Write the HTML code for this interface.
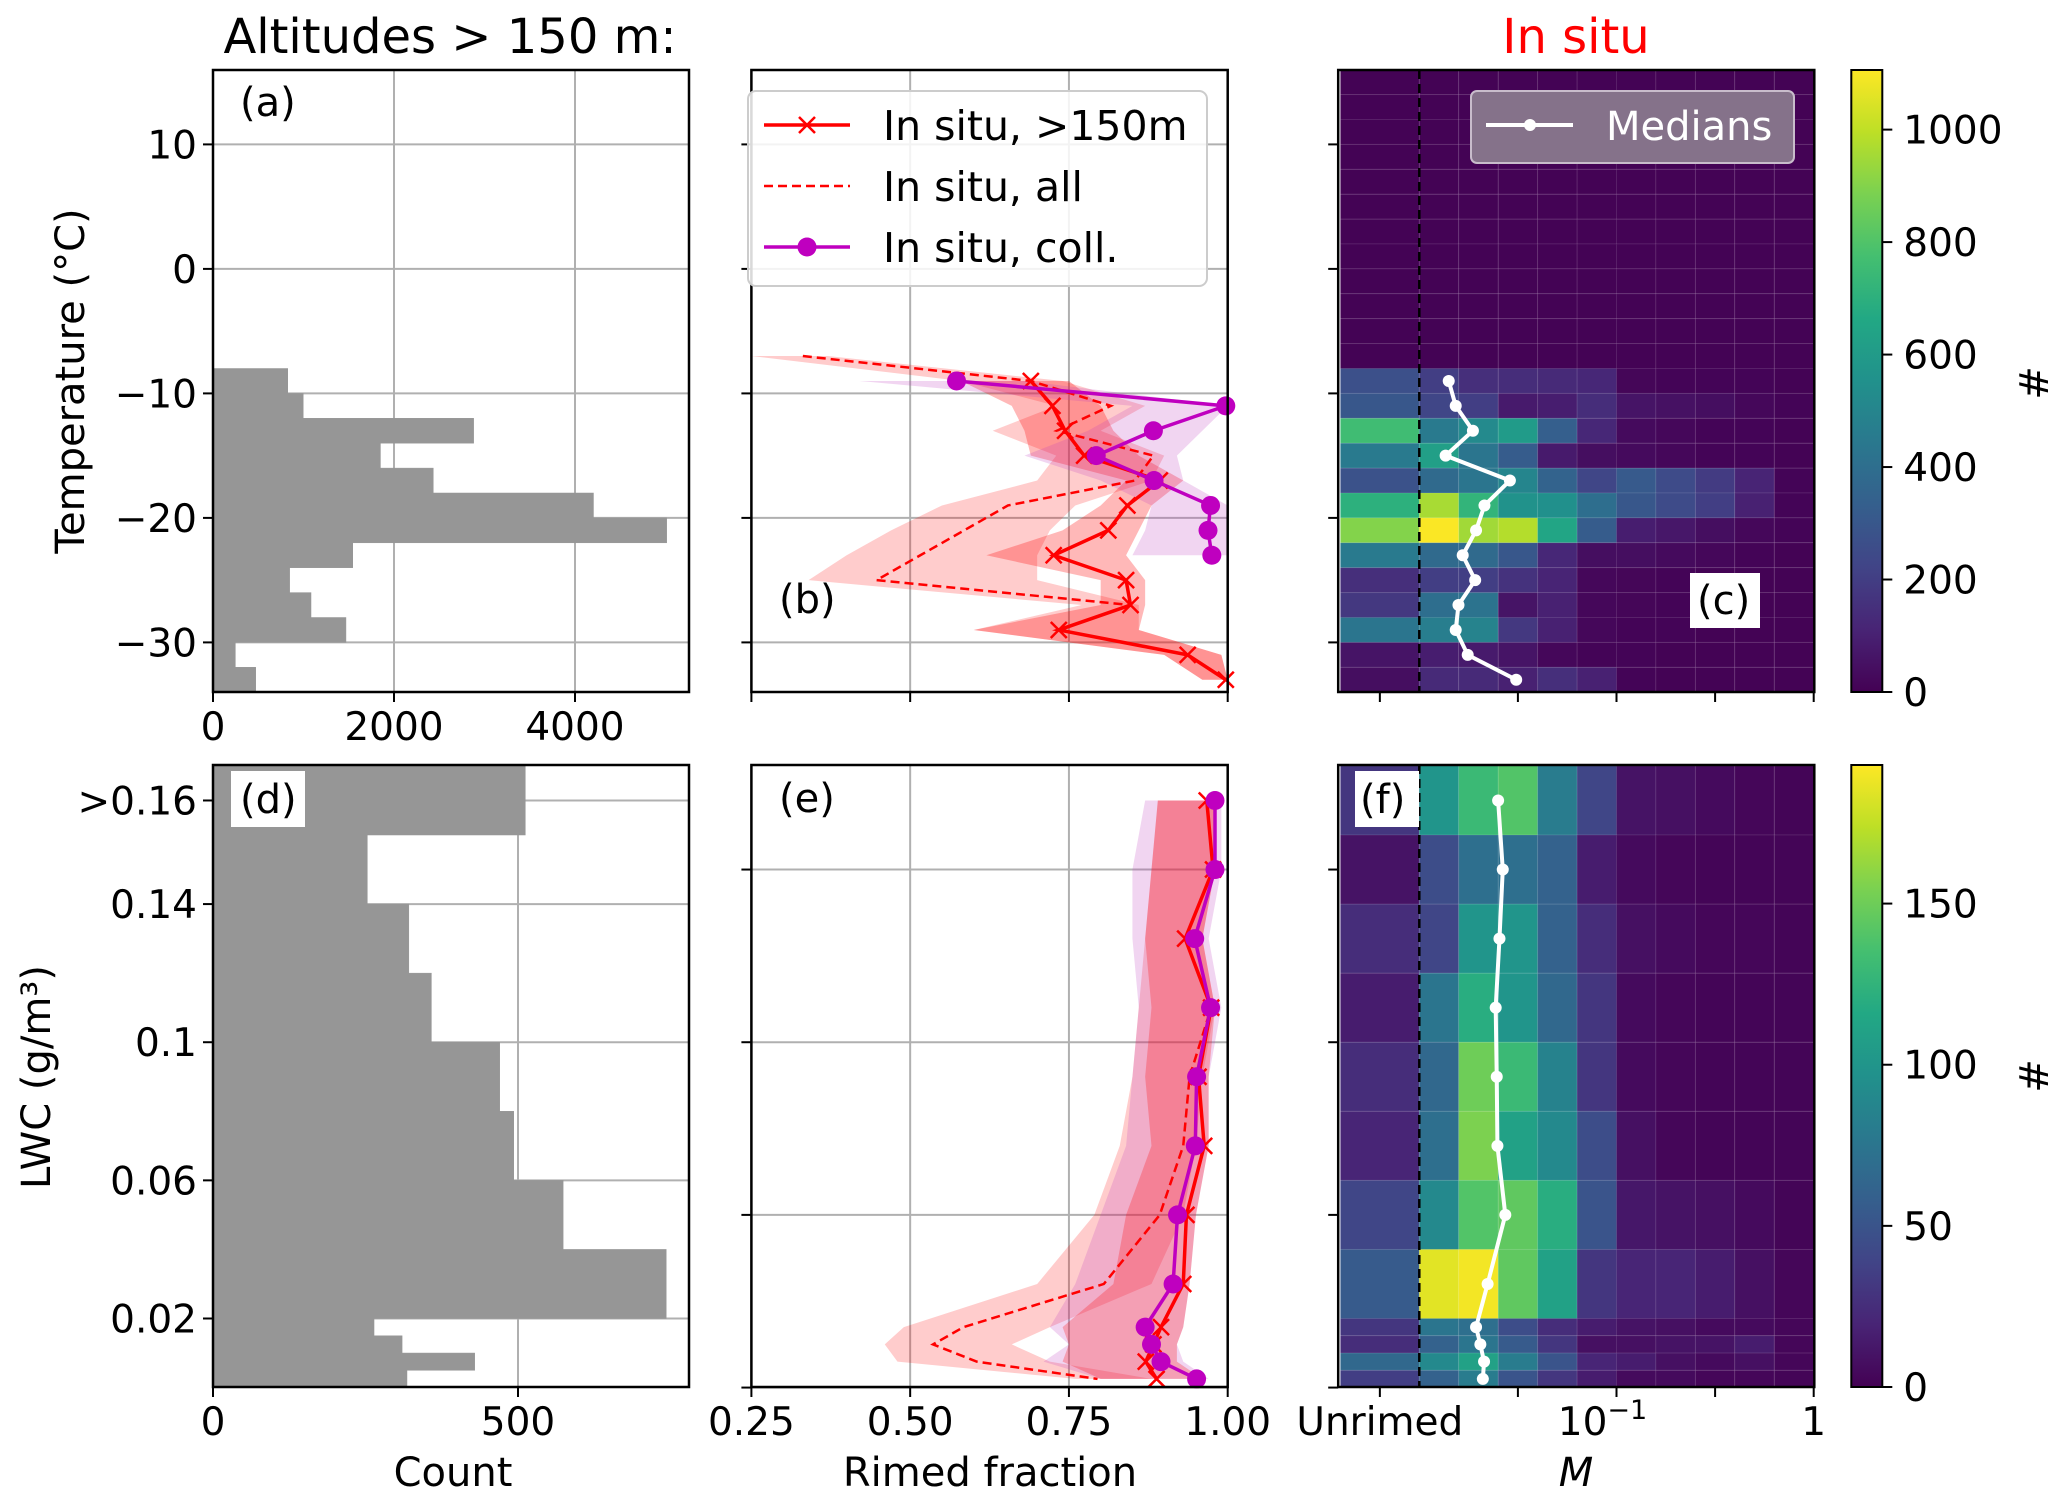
<!DOCTYPE html>
<html><head><meta charset="utf-8">
<style>
html,body{margin:0;padding:0;background:#fff;}
svg{display:block;font-family:"DejaVu Sans","Liberation Sans",sans-serif;}
</style></head>
<body>
<svg id="fig" width="2067" height="1506" viewBox="0 0 2067 1506" xmlns="http://www.w3.org/2000/svg">
<defs>
<linearGradient id="viridis" x1="0" y1="1" x2="0" y2="0">
<stop offset="0" stop-color="#440154"/><stop offset="0.1" stop-color="#482475"/><stop offset="0.2" stop-color="#414487"/><stop offset="0.3" stop-color="#355f8d"/><stop offset="0.4" stop-color="#2a788e"/><stop offset="0.5" stop-color="#21918c"/><stop offset="0.6" stop-color="#22a884"/><stop offset="0.7" stop-color="#44bf70"/><stop offset="0.8" stop-color="#7ad151"/><stop offset="0.9" stop-color="#bddf26"/><stop offset="1" stop-color="#fde725"/>
</linearGradient>
</defs>
<text x="450" y="53" font-size="48" text-anchor="middle">Altitudes &gt; 150 m:</text>
<text x="1576" y="53" font-size="48" text-anchor="middle" fill="#ff0000">In situ</text>
<g id="root"></g>
</svg>
<script>
// ---------- data ----------
const tempBinTops = [-8,-10,-12,-14,-16,-18,-20,-22,-24,-26,-28,-30,-32];
const tempCounts = [826,997,2880,1850,2434,4204,5013,1544,847,1083,1469,247,472];
const tempTicks = [10,0,-10,-20,-30];
const countTicksA = [0,2000,4000];

const rfTempsSolid = [-9,-11,-13,-15,-17,-19,-21,-23,-25,-27,-29,-31,-33];
const rfSolidT = [0.690,0.724,0.744,0.774,0.893,0.842,0.812,0.726,0.840,0.847,0.734,0.937,0.997];
const rfSolidTLo = [0.58,0.66,0.68,0.69,0.84,0.80,0.74,0.62,0.80,0.80,0.60,0.90,0.96];
const rfSolidTHi = [0.75,0.80,0.82,0.86,0.93,0.88,0.86,0.84,0.87,0.87,0.86,0.99,1.0];
const rfTempsAll = [-7,-9,-11,-13,-15,-17,-19,-21,-23,-25,-27,-29,-31,-33];
const rfAllT = [0.331,0.690,0.816,0.731,0.883,0.854,0.654,0.585,0.516,0.447,0.847,0.734,0.937,0.997];
const rfAllTLo = [0.25,0.58,0.73,0.63,0.73,0.70,0.55,0.47,0.40,0.34,0.77,0.60,0.90,0.96];
const rfAllTHi = [0.37,0.74,0.87,0.80,0.90,0.88,0.76,0.72,0.70,0.70,0.86,0.86,0.99,1.0];
const rfTempsColl = [-9,-11,-13,-15,-17,-19,-21,-23];
const rfCollT = [0.573,0.997,0.883,0.793,0.884,0.973,0.969,0.975];
const rfCollTLo = [0.42,0.85,0.78,0.68,0.80,0.88,0.87,0.85];
const rfCollTHi = [0.68,1.0,0.96,0.92,0.93,1.0,1.0,1.0];
const rfTicks = [0.25,0.5,0.75,1.0];
const rfTickLabels = ["0.25","0.50","0.75","1.00"];

const logMEdges = [-2.4,-2.0,-1.8,-1.6,-1.4,-1.2,-1.0,-0.8,-0.6,-0.4,-0.2,0];
const mTicksLog = [-2.2,-1.5,-1,-0.5,0];
const mTickLabels = ["Unrimed","","10|−1","","1"];
const heatTempRows = [
[270,200,150,140,130,120,15,10,10,10,5],
[300,230,200,80,90,140,60,50,40,20,10],
[760,450,520,600,330,120,30,20,10,10,5],
[450,620,430,320,80,40,30,20,10,10,5],
[280,380,430,500,350,230,310,250,190,110,10],
[700,960,720,560,550,400,300,250,200,100,10],
[900,1100,950,980,650,320,90,70,40,20,10],
[450,380,380,300,120,40,40,30,20,10,5],
[150,200,200,160,110,20,15,10,5,5,5],
[180,400,420,60,100,20,15,10,5,5,5],
[430,470,490,180,100,20,10,10,5,5,5],
[60,90,80,60,20,10,10,5,5,5,5],
[40,130,130,100,150,100,10,5,5,5,5]];
const heatTempBg = 5;
const medTempM = [0.0141,0.0153,0.0187,0.0136,0.0288,0.0214,0.0194,0.0166,0.0192,0.0158,0.0153,0.0176,0.031];
const cbTempMax = 1106;
const cbTempTicks = [0,200,400,600,800,1000];

const lwcEdges = [0.18,0.16,0.14,0.12,0.10,0.08,0.06,0.04,0.02,0.015,0.01,0.005,0];
const lwcCounts = [512,253,321,358,470,493,574,743,264,310,429,318];
const lwcTicksD = [0.17,0.14,0.10,0.06,0.02];
const lwcTickLabelsD = [">0.16","0.14","0.1","0.06","0.02"];
const lwcTicksE = [0.15,0.10,0.05,0];
const countTicksD = [0,500];
const lwcCenters = [0.17,0.15,0.13,0.11,0.09,0.07,0.05,0.03,0.0175,0.0125,0.0075,0.0025];
const rfSolidL = [0.967,0.977,0.933,0.974,0.954,0.963,0.935,0.930,0.895,0.883,0.871,0.888];
const rfSolidLLo = [0.89,0.88,0.87,0.88,0.87,0.88,0.84,0.82,0.74,0.75,0.74,0.80];
const rfSolidLHi = [0.98,0.98,0.96,0.98,0.97,0.97,0.95,0.94,0.93,0.92,0.92,0.96];
const rfAllL = [0.967,0.977,0.933,0.974,0.940,0.930,0.893,0.805,0.584,0.536,0.605,0.795];
const rfAllLLo = [0.89,0.88,0.87,0.86,0.85,0.83,0.79,0.70,0.49,0.46,0.48,0.76];
const rfAllLHi = [0.98,0.98,0.96,0.98,0.96,0.95,0.93,0.88,0.72,0.66,0.72,0.88];
const rfCollL = [0.980,0.980,0.948,0.973,0.951,0.949,0.921,0.914,0.870,0.880,0.895,0.951];
const rfCollLLo = [0.87,0.85,0.85,0.86,0.85,0.84,0.80,0.76,0.72,0.75,0.71,0.80];
const rfCollLHi = [0.99,0.99,0.97,0.99,0.97,0.97,0.95,0.94,0.93,0.92,0.93,0.97];
const heatLwcRows = [
[30,100,130,140,80,40,10,8,5,3,2],
[10,45,70,70,60,15,5,3,2,2,2],
[25,40,100,100,60,25,8,5,3,3,2],
[15,75,120,100,65,30,5,3,2,2,2],
[25,65,150,130,85,30,5,3,2,2,2],
[20,70,155,110,90,45,8,3,2,2,2],
[40,90,140,145,120,50,12,10,8,5,2],
[55,185,190,145,110,30,20,20,15,8,3],
[30,75,70,45,25,15,10,8,5,5,3],
[25,60,75,55,30,8,8,10,10,15,3],
[65,90,110,80,50,20,15,8,5,8,3],
[35,60,80,50,30,15,5,5,3,3,2]];
const medLwcM = [0.0251,0.0265,0.0255,0.0244,0.0247,0.0249,0.0273,0.0222,0.0194,0.0204,0.0213,0.0210];
const cbLwcMax = 193;
const cbLwcTicks = [0,50,100,150];

// ---------- layout ----------
const NS = "http://www.w3.org/2000/svg";
const root = document.getElementById('root');
const TOP1=70, BOT1=692, TOP2=765, BOT2=1387;
const AL=213, AR=689, BL=751.4, BR=1227.7, CL=1338.2, CR=1814.3, CBL=1851.3, CBR=1882.3;
const FS=39, BOTLAB=1435;
function el(tag, attrs, parent){ const e=document.createElementNS(NS,tag); for(const k in attrs) e.setAttribute(k,attrs[k]); (parent||root).appendChild(e); return e; }
function txt(s, attrs, parent){ const e=el('text',attrs,parent); e.textContent=s; return e; }

const yT = t => 144.4 + (10 - t)*12.45;
const yL = v => 1318.5 - (v - 0.02)/0.02*69.07;
const xA = c => AL + c*181/2000;
const xD = c => AL + c*305/500;
const xRF = (L,R) => r => L + (r-0.25)/0.75*(R-L);
const xB = xRF(BL,BR);
const xM = lm => 1616.5 + 197.2*(lm + 1);
const viridis = ["#440154","#482475","#414487","#355f8d","#2a788e","#21918c","#22a884","#44bf70","#7ad151","#bddf26","#fde725"];
function hex(h){return [parseInt(h.slice(1,3),16),parseInt(h.slice(3,5),16),parseInt(h.slice(5,7),16)];}
function cmap(f){ f=Math.max(0,Math.min(1,f)); const p=f*10, i=Math.min(9,Math.floor(p)), t=p-i; const a=hex(viridis[i]), b=hex(viridis[i+1]); return 'rgb('+a.map((v,k)=>Math.round(v+(b[k]-v)*t)).join(',')+')'; }

function frame(L,T,R,B,name){ const r=el('rect',{x:L,y:T,width:R-L,height:B-T,fill:'none',stroke:'#000','stroke-width':2.5});   }
function gridH(L,R,y,g){ el('line',{x1:L,x2:R,y1:y,y2:y,stroke:'#b0b0b0','stroke-width':2},g); }
function gridV(T,B,x,g){ el('line',{x1:x,x2:x,y1:T,y2:B,stroke:'#b0b0b0','stroke-width':2},g); }
function tickL(L,y,g){ el('line',{x1:L-10,x2:L,y1:y,y2:y,stroke:'#000','stroke-width':2},g); }
function tickB(B,x,g){ el('line',{x1:x,x2:x,y1:B,y2:B+10,stroke:'#000','stroke-width':2},g); }

// ---------- panel (a) ----------
const ga = el('g',{});  
tempTicks.forEach(t=>gridH(AL,AR,yT(t),ga));
countTicksA.forEach(c=>gridV(TOP1,BOT1,xA(c),ga));
tempCounts.forEach((c,i)=>{ const y0=yT(tempBinTops[i]), y1=yT(tempBinTops[i]-2);
  const r=el('rect',{x:AL,y:y0,width:xA(c)-AL,height:y1-y0,fill:'#969696',stroke:'#969696','stroke-width':0.5},ga);
    });
tempTicks.forEach(t=>{ tickL(AL,yT(t),ga); txt(String(t).replace('-','−'),{x:AL-16,y:yT(t)+14,'font-size':FS,'text-anchor':'end'},ga); });
countTicksA.forEach(c=>{ tickB(BOT1,xA(c),ga); txt(String(c),{x:xA(c),y:740,'font-size':FS,'text-anchor':'middle'},ga); });
frame(AL,TOP1,AR,BOT1,'panel-a-frame');
txt('(a)',{x:240,y:116,'font-size':40},ga);
const yl1=txt('Temperature (°C)',{x:0,y:0,'font-size':40,'text-anchor':'middle',transform:'translate(84,381) rotate(-90)'});
 

// ---------- panel (b) ----------
const gb = el('g',{});  
tempTicks.forEach(t=>gridH(BL,BR,yT(t),gb));
rfTicks.forEach(r=>gridV(TOP1,BOT1,xB(r),gb));
function band(lo,hi,ys,xf,fill,op,g,name){ const pts=[]; lo.forEach((v,i)=>pts.push(xf(v)+','+ys[i])); for(let i=hi.length-1;i>=0;i--) pts.push(xf(hi[i])+','+ys[i]);
  const p=el('polygon',{points:pts.join(' '),fill:fill,'fill-opacity':op},g);   }
function line(vals,ys,xf,attrs,g,name){ const p=el('polyline',Object.assign({points:vals.map((v,i)=>xf(v)+','+ys[i]).join(' '),fill:'none'},attrs),g);   }
function xmarks(vals,ys,xf,g,s){ vals.forEach((v,i)=>{ const x=xf(v),y=ys[i]; const p=el('path',{d:`M${x-s},${y-s}L${x+s},${y+s}M${x-s},${y+s}L${x+s},${y-s}`,stroke:'#ff0000','stroke-width':2.5},g);   }); }
function dots(vals,ys,xf,g,r,col){ vals.forEach((v,i)=>{ const c=el('circle',{cx:xf(v),cy:ys[i],r:r,fill:col},g);   }); }
const ysA = rfTempsAll.map(yT), ysS = rfTempsSolid.map(yT), ysC = rfTempsColl.map(yT);
band(rfAllTLo,rfAllTHi,ysA,xB,'#ff0000',0.2,gb,'band-all');
band(rfSolidTLo,rfSolidTHi,ysS,xB,'#ff0000',0.28,gb,'band-150m');
band(rfCollTLo,rfCollTHi,ysC,xB,'#c040c0',0.22,gb,'band-coll');
line(rfAllT,ysA,xB,{stroke:'#ff0000','stroke-width':2.5,'stroke-dasharray':'9,5'},gb,'line-insitu-all');
line(rfSolidT,ysS,xB,{stroke:'#ff0000','stroke-width':3.5},gb,'line-insitu-150m');
xmarks(rfSolidT,ysS,xB,gb,8);
line(rfCollT,ysC,xB,{stroke:'#bf00bf','stroke-width':3.5},gb,'line-insitu-coll');
dots(rfCollT,ysC,xB,gb,9.5,'#bf00bf');
tempTicks.forEach(t=>tickL(BL,yT(t),gb));
rfTicks.forEach(r=>tickB(BOT1,xB(r),gb));
frame(BL,TOP1,BR,BOT1,'panel-b-frame');
txt('(b)',{x:779,y:613,'font-size':40},gb);
const lg = el('g',{});  
el('rect',{x:748,y:91,width:459,height:195,rx:8,fill:'#fff','fill-opacity':0.85,stroke:'#cccccc','stroke-width':2},lg);
const legRows=[['In situ, >150m',125,'solid'],['In situ, all',186,'dash'],['In situ, coll.',247,'coll']];
legRows.forEach(([lab,y,k])=>{ const e=el('g',{},lg);  
  if(k==='dash') el('line',{x1:764,x2:850,y1:y,y2:y,stroke:'#ff0000','stroke-width':2.5,'stroke-dasharray':'9,5'},e);
  else el('line',{x1:764,x2:850,y1:y,y2:y,stroke:k==='solid'?'#ff0000':'#bf00bf','stroke-width':3.5},e);
  if(k==='solid') el('path',{d:`M799,117L815,133M799,133L815,117`,stroke:'#ff0000','stroke-width':2.5},e);
  if(k==='coll') el('circle',{cx:807,cy:y,r:9.5,fill:'#bf00bf'},e);
  txt(lab,{x:883,y:y+15,'font-size':41},e); });

// ---------- heatmaps ----------
function heatmap(rows, rowEdges, yf, vmax, bg, extraRows, g){
  extraRows.forEach(([t0,t1])=>{ for(let j=0;j<logMEdges.length-1;j++){ const r=el('rect',{x:xM(logMEdges[j]),y:yf(t0),width:xM(logMEdges[j+1])-xM(logMEdges[j]),height:yf(t1)-yf(t0),fill:cmap(bg/vmax),stroke:'rgba(255,255,255,0.08)','stroke-width':1},g);   } });
  rows.forEach((row,i)=>{ row.forEach((v,j)=>{ const y0=yf(rowEdges[i]), y1=yf(rowEdges[i+1]);
    const r=el('rect',{x:xM(logMEdges[j]),y:y0,width:xM(logMEdges[j+1])-xM(logMEdges[j]),height:y1-y0,fill:cmap(v/vmax),stroke:'rgba(255,255,255,0.08)','stroke-width':1},g);
      }); });
}
function mticks(B,g,labels){ mTicksLog.forEach((lm,i)=>{ tickB(B,xM(lm),g); if(labels && mTickLabels[i]){ const s=mTickLabels[i];
  if(s.includes('|')){ const [b,e]=s.split('|'); const t=txt(b,{x:xM(lm)-14,y:BOTLAB,'font-size':FS,'text-anchor':'middle'},g); const ts=document.createElementNS(NS,'tspan'); ts.setAttribute('dy','-16'); ts.setAttribute('font-size','27'); ts.textContent=e; t.appendChild(ts); }
  else txt(s,{x:xM(lm),y:BOTLAB,'font-size':FS,'text-anchor':'middle'},g); } }); }

const gc = el('g',{});  
const tempRowEdges = tempBinTops.concat([-34]);
const extraT=[]; for(let t=16;t>-8;t-=2) extraT.push([t,t-2]);
heatmap(heatTempRows,tempRowEdges,yT,cbTempMax,heatTempBg,extraT,gc);
el('line',{x1:xM(-2),x2:xM(-2),y1:TOP1,y2:BOT1,stroke:'#000','stroke-width':2.5,'stroke-dasharray':'9,5'},gc);
line(medTempM.map(Math.log10),rfTempsSolid.map(yT),xM,{stroke:'#fff','stroke-width':4},gc,'medians-line-c');
dots(medTempM.map(Math.log10),rfTempsSolid.map(yT),xM,gc,6,'#fff');
tempTicks.forEach(t=>tickL(CL,yT(t),gc));
mticks(BOT1,gc,false);
frame(CL,TOP1,CR,BOT1,'panel-c-frame');
const lc=el('g',{});  
el('rect',{x:1471,y:91,width:323,height:72,rx:6,fill:'#85728a',stroke:'#c8bccb','stroke-width':2},lc);
el('line',{x1:1486,x2:1573,y1:125,y2:125,stroke:'#fff','stroke-width':4},lc);
el('circle',{cx:1530,cy:125,r:6,fill:'#fff'},lc);
txt('Medians',{x:1606,y:140,'font-size':40,fill:'#fff'},lc);
el('rect',{x:1690,y:573,width:70,height:55,fill:'#fff'},gc);
txt('(c)',{x:1697,y:614,'font-size':40},gc);

function colorbar(T,B,vmax,ticks,hashY,name){ const g=el('g',{});  
  el('rect',{x:CBL,y:T,width:CBR-CBL,height:B-T,fill:'url(#viridis)',stroke:'#000','stroke-width':2},g);
  ticks.forEach(v=>{ const y=B-v/vmax*(B-T); el('line',{x1:CBR,x2:CBR+10,y1:y,y2:y,stroke:'#000','stroke-width':2},g); txt(String(v),{x:CBR+21,y:y+14,'font-size':FS},g); });
  txt('#',{x:0,y:0,'font-size':40,'text-anchor':'middle',transform:`translate(2048,${hashY}) rotate(-90)`},g); }
colorbar(TOP1,BOT1,cbTempMax,cbTempTicks,383,'colorbar-c');

// ---------- panel (d) ----------
const gd = el('g',{});  
lwcTicksD.forEach(v=>gridH(AL,AR,yL(v),gd));
countTicksD.forEach(c=>gridV(TOP2,BOT2,xD(c),gd));
lwcCounts.forEach((c,i)=>{ const y0=yL(lwcEdges[i]), y1=yL(lwcEdges[i+1]);
  const r=el('rect',{x:AL,y:y0,width:xD(c)-AL,height:y1-y0,fill:'#969696',stroke:'#969696','stroke-width':0.5},gd);
    });
lwcTicksD.forEach((v,i)=>{ tickL(AL,yL(v),gd); txt(lwcTickLabelsD[i],{x:AL-16,y:yL(v)+14,'font-size':FS,'text-anchor':'end'},gd); });
countTicksD.forEach(c=>{ tickB(BOT2,xD(c),gd); txt(String(c),{x:xD(c),y:BOTLAB,'font-size':FS,'text-anchor':'middle'},gd); });
frame(AL,TOP2,AR,BOT2,'panel-d-frame');
el('rect',{x:231,y:771,width:74,height:56,fill:'#fff'},gd);
txt('(d)',{x:240,y:813,'font-size':40},gd);
const yl2=txt('LWC (g/m³)',{x:0,y:0,'font-size':40,'text-anchor':'middle',transform:'translate(50,1077) rotate(-90)'});
 
const xl1=txt('Count',{x:453,y:1486,'font-size':40,'text-anchor':'middle'});  

// ---------- panel (e) ----------
const ge = el('g',{});  
lwcTicksE.forEach(v=>gridH(BL,BR,yL(v),ge));
rfTicks.forEach(r=>gridV(TOP2,BOT2,xB(r),ge));
const ysL = lwcCenters.map(yL);
band(rfAllLLo,rfAllLHi,ysL,xB,'#ff0000',0.2,ge,'band-all');
band(rfCollLLo,rfCollLHi,ysL,xB,'#c040c0',0.22,ge,'band-coll');
band(rfSolidLLo,rfSolidLHi,ysL,xB,'#ff0000',0.25,ge,'band-150m');
line(rfAllL,ysL,xB,{stroke:'#ff0000','stroke-width':2.5,'stroke-dasharray':'9,5'},ge,'line-insitu-all');
line(rfSolidL,ysL,xB,{stroke:'#ff0000','stroke-width':3.5},ge,'line-insitu-150m');
xmarks(rfSolidL,ysL,xB,ge,8);
line(rfCollL,ysL,xB,{stroke:'#bf00bf','stroke-width':3.5},ge,'line-insitu-coll');
dots(rfCollL,ysL,xB,ge,9.5,'#bf00bf');
lwcTicksE.forEach(v=>tickL(BL,yL(v),ge));
rfTicks.forEach((r,i)=>{ tickB(BOT2,xB(r),ge); txt(rfTickLabels[i],{x:xB(r),y:BOTLAB,'font-size':FS,'text-anchor':'middle'},ge); });
frame(BL,TOP2,BR,BOT2,'panel-e-frame');
txt('(e)',{x:779,y:812,'font-size':40},ge);
const xl2=txt('Rimed fraction',{x:990,y:1486,'font-size':40,'text-anchor':'middle'});  

// ---------- panel (f) ----------
const gf = el('g',{});  
heatmap(heatLwcRows,lwcEdges,yL,cbLwcMax,0,[],gf);
el('line',{x1:xM(-2),x2:xM(-2),y1:TOP2,y2:BOT2,stroke:'#000','stroke-width':2.5,'stroke-dasharray':'9,5'},gf);
line(medLwcM.map(Math.log10),ysL,xM,{stroke:'#fff','stroke-width':4},gf,'medians-line-f');
dots(medLwcM.map(Math.log10),ysL,xM,gf,6,'#fff');
lwcTicksE.forEach(v=>tickL(CL,yL(v),gf));
mticks(BOT2,gf,true);
frame(CL,TOP2,CR,BOT2,'panel-f-frame');
el('rect',{x:1355,y:771,width:64,height:56,fill:'#fff'},gf);
txt('(f)',{x:1360,y:813,'font-size':40},gf);
const xl3=txt('M',{x:1576,y:1486,'font-size':40,'text-anchor':'middle','font-style':'italic'});  
colorbar(TOP2,BOT2,cbLwcMax,cbLwcTicks,1076,'colorbar-f');
</script>
</body></html>
